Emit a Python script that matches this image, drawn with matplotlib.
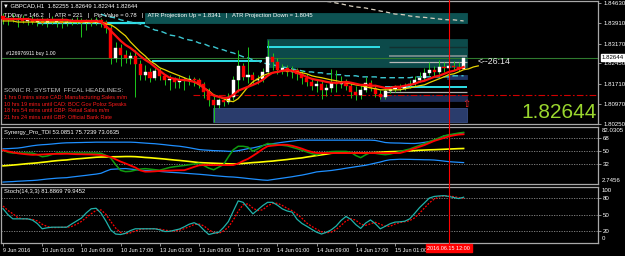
import numpy as np
import matplotlib
matplotlib.use("Agg")
import matplotlib.pyplot as plt
from matplotlib import transforms
from matplotlib.lines import Line2D
from matplotlib.patches import Rectangle

plt.rcParams['font.family'] = ['Liberation Sans', 'DejaVu Sans']

# ---------------- data ----------------
opens = [
    1.8417, 1.8406, 1.8410, 1.8403, 1.8406, 1.8399, 1.8403, 1.8395, 1.8399, 1.8392,
    1.8403, 1.8395, 1.8399, 1.8392, 1.8395, 1.8403, 1.8395, 1.8392, 1.8395, 1.8392,
    1.8403, 1.8395, 1.8374, 1.8265, 1.8301, 1.8276, 1.8265, 1.8272, 1.8243, 1.8204,
    1.8214, 1.8193, 1.8218, 1.8200, 1.8185, 1.8189, 1.8178, 1.8185, 1.8182, 1.8189,
    1.8185, 1.8171, 1.8142, 1.8113, 1.8095, 1.8113, 1.8106, 1.8124, 1.8185, 1.8236,
    1.8196, 1.8204, 1.8185, 1.8189, 1.8214, 1.8269, 1.8251, 1.8222, 1.8229, 1.8214,
    1.8222, 1.8207, 1.8193, 1.8178, 1.8164, 1.8171, 1.8149, 1.8156, 1.8175, 1.8171,
    1.8178, 1.8164, 1.8142, 1.8131, 1.8149, 1.8175, 1.8156, 1.8135, 1.8124, 1.8146,
    1.8153, 1.8156, 1.8153, 1.8164, 1.8171, 1.8185, 1.8193, 1.8211, 1.8222, 1.8214,
    1.8232, 1.8229, 1.8236, 1.8232, 1.82255]
highs = [
    1.8428, 1.8421, 1.8424, 1.8417, 1.8421, 1.8413, 1.8417, 1.8410, 1.8413, 1.8410,
    1.8417, 1.8406, 1.8413, 1.8406, 1.8410, 1.8413, 1.8410, 1.8406, 1.8410, 1.8413,
    1.8410, 1.8403, 1.8385, 1.8323, 1.8316, 1.8294, 1.8287, 1.8294, 1.8258, 1.8240,
    1.8229, 1.8229, 1.8229, 1.8207, 1.8204, 1.8196, 1.8200, 1.8196, 1.8204, 1.8196,
    1.8193, 1.8178, 1.8156, 1.8131, 1.8120, 1.8124, 1.8138, 1.8200, 1.8294, 1.8247,
    1.8305, 1.8214, 1.8204, 1.8229, 1.8330, 1.8283, 1.8265, 1.8243, 1.8240, 1.8236,
    1.8229, 1.8222, 1.8207, 1.8193, 1.8185, 1.8185, 1.8171, 1.8225, 1.8222, 1.8200,
    1.8189, 1.8178, 1.8164, 1.8167, 1.8196, 1.8185, 1.8167, 1.8149, 1.8153, 1.8164,
    1.8167, 1.8171, 1.8175, 1.8185, 1.8200, 1.8214, 1.8229, 1.8251, 1.8236, 1.8258,
    1.8251, 1.8251, 1.8254, 1.8251, 1.82649]
lows = [
    1.8388, 1.8385, 1.8395, 1.8377, 1.8392, 1.8385, 1.8388, 1.8381, 1.8385, 1.8377,
    1.8388, 1.8377, 1.8374, 1.8381, 1.8385, 1.8388, 1.8341, 1.8366, 1.8381, 1.8385,
    1.8377, 1.8356, 1.8243, 1.8251, 1.8236, 1.8247, 1.8243, 1.8124, 1.8185, 1.8185,
    1.8178, 1.8185, 1.8185, 1.8167, 1.8149, 1.8156, 1.8156, 1.8149, 1.8167, 1.8164,
    1.8156, 1.8120, 1.8091, 1.8033, 1.8084, 1.8091, 1.8099, 1.8113, 1.8142, 1.8185,
    1.8175, 1.8171, 1.8171, 1.8178, 1.8207, 1.8222, 1.8207, 1.8207, 1.8200, 1.8193,
    1.8185, 1.8171, 1.8164, 1.8149, 1.8142, 1.8117, 1.8128, 1.8142, 1.8142, 1.8156,
    1.8149, 1.8120, 1.8113, 1.8117, 1.8142, 1.8146, 1.8124, 1.8117, 1.8117, 1.8138,
    1.8142, 1.8146, 1.8149, 1.8156, 1.8164, 1.8178, 1.8185, 1.8204, 1.8200, 1.8207,
    1.8214, 1.8222, 1.8222, 1.8218, 1.82244]
closes = [
    1.8406, 1.8410, 1.8403, 1.8406, 1.8399, 1.8403, 1.8395, 1.8399, 1.8392, 1.8403,
    1.8395, 1.8399, 1.8392, 1.8395, 1.8403, 1.8395, 1.8392, 1.8395, 1.8392, 1.8403,
    1.8392, 1.8374, 1.8265, 1.8301, 1.8276, 1.8265, 1.8272, 1.8243, 1.8204, 1.8214,
    1.8193, 1.8218, 1.8200, 1.8185, 1.8189, 1.8178, 1.8185, 1.8182, 1.8189, 1.8185,
    1.8171, 1.8142, 1.8113, 1.8095, 1.8113, 1.8106, 1.8124, 1.8185, 1.8236, 1.8196,
    1.8204, 1.8185, 1.8189, 1.8214, 1.8269, 1.8251, 1.8222, 1.8229, 1.8214, 1.8222,
    1.8207, 1.8193, 1.8178, 1.8164, 1.8171, 1.8149, 1.8156, 1.8175, 1.8171, 1.8178,
    1.8164, 1.8142, 1.8131, 1.8149, 1.8175, 1.8156, 1.8135, 1.8124, 1.8146, 1.8153,
    1.8156, 1.8153, 1.8164, 1.8171, 1.8185, 1.8193, 1.8211, 1.8222, 1.8214, 1.8232,
    1.8229, 1.8236, 1.8232, 1.8225, 1.82644]

ma_red = [
    1.8406, 1.8406, 1.8406, 1.8406, 1.8406, 1.8406, 1.8403, 1.8403, 1.8403, 1.8403,
    1.8403, 1.8403, 1.8403, 1.8403, 1.8399, 1.8399, 1.8399, 1.8399, 1.8399, 1.8399,
    1.8395, 1.8381, 1.8363, 1.8345, 1.8327, 1.8312, 1.8301, 1.8287, 1.8272, 1.8258,
    1.8247, 1.8232, 1.8218, 1.8204, 1.8193, 1.8189, 1.8185, 1.8185, 1.8182, 1.8178,
    1.8171, 1.8156, 1.8142, 1.8128, 1.8124, 1.8120, 1.8120, 1.8131, 1.8146, 1.8153,
    1.8160, 1.8167, 1.8175, 1.8185, 1.8200, 1.8211, 1.8214, 1.8218, 1.8222, 1.8218,
    1.8211, 1.8204, 1.8196, 1.8189, 1.8185, 1.8182, 1.8178, 1.8175, 1.8175, 1.8175,
    1.8178, 1.8175, 1.8171, 1.8167, 1.8167, 1.8164, 1.8164, 1.8160, 1.8156, 1.8156,
    1.8160, 1.8160, 1.8164, 1.8167, 1.8171, 1.8178, 1.8182, 1.8189, 1.8196, 1.8200,
    1.8207, 1.8214, 1.8218, 1.8225, 1.8232]
ma_yellow = [
    1.8399, 1.8399, 1.8399, 1.8395, 1.8395, 1.8395, 1.8395, 1.8395, 1.8395, 1.8395,
    1.8395, 1.8395, 1.8395, 1.8395, 1.8395, 1.8395, 1.8395, 1.8395, 1.8395, 1.8395,
    1.8395, 1.8388, 1.8385, 1.8374, 1.8359, 1.8345, 1.8323, 1.8305, 1.8287, 1.8272,
    1.8254, 1.8243, 1.8229, 1.8222, 1.8214, 1.8207, 1.8200, 1.8193, 1.8185, 1.8178,
    1.8167, 1.8156, 1.8146, 1.8131, 1.8124, 1.8117, 1.8109, 1.8106, 1.8117, 1.8138,
    1.8160, 1.8178, 1.8189, 1.8200, 1.8207, 1.8211, 1.8214, 1.8218, 1.8218, 1.8218,
    1.8214, 1.8211, 1.8207, 1.8200, 1.8196, 1.8193, 1.8189, 1.8185, 1.8182, 1.8178,
    1.8175, 1.8171, 1.8167, 1.8164, 1.8160, 1.8156, 1.8153, 1.8149, 1.8149, 1.8149,
    1.8149, 1.8149, 1.8153, 1.8156, 1.8160, 1.8164, 1.8167, 1.8175, 1.8182, 1.8189,
    1.8196, 1.8204, 1.8207, 1.8214, 1.8222, 1.8225, 1.8232, 1.8236]
ma_cyan_start = 20
ma_cyan = [
    1.8424, 1.8417, 1.8413, 1.8410, 1.8403, 1.8399, 1.8395, 1.8392, 1.8388, 1.8381,
    1.8374, 1.8366, 1.8363, 1.8356, 1.8348, 1.8345, 1.8341, 1.8334, 1.8330, 1.8327,
    1.8319, 1.8316, 1.8308, 1.8305, 1.8298, 1.8294, 1.8287, 1.8283, 1.8276, 1.8269,
    1.8265, 1.8258, 1.8254, 1.8247, 1.8243, 1.8240, 1.8236, 1.8232, 1.8229, 1.8225,
    1.8222, 1.8218, 1.8214, 1.8214, 1.8211, 1.8211, 1.8207, 1.8207, 1.8204, 1.8204,
    1.8200, 1.8200, 1.8200, 1.8196, 1.8196, 1.8196, 1.8196, 1.8193, 1.8193, 1.8193,
    1.8193, 1.8193, 1.8193, 1.8193, 1.8196, 1.8196, 1.8196, 1.8196, 1.8196, 1.8196,
    1.8196, 1.8196, 1.8200, 1.8200, 1.8200]
ma_gray_start = 62
ma_gray = [
    1.8482, 1.8479, 1.8475, 1.8471, 1.8470, 1.8468, 1.8464, 1.8461, 1.8457, 1.8453,
    1.8450, 1.8448, 1.8446, 1.8442, 1.8439, 1.8435, 1.8432, 1.8428, 1.8424, 1.8423,
    1.8421, 1.8417, 1.8415, 1.8413, 1.8412, 1.8410, 1.8408, 1.8406, 1.8404, 1.8403,
    1.8403, 1.8401, 1.8399]

# zones (bar index span, price span)
zone_x0 = [29.0, 53.9, 42.9, 77.0, 90.6]
zone_x1 = [94.7, 94.7, 94.7, 94.7, 94.7]
zone_lo = [1.8393, 1.8232, 1.8033, 1.8109, 1.8189]
zone_hi = [1.8429, 1.8334, 1.8084, 1.8131, 1.8204]
# level segments
seg_x0 = [6.9, 53.9, 78.8, 78.8, 30.4, 78.0, 78.0]
seg_x1 = [29.0, 76.9, 94.7, 94.7, 52.9, 94.7, 94.7]
seg_y = [1.8393, 1.8306, 1.8306, 1.8251, 1.8252, 1.8161, 1.8142]
band_lo, band_hi = 1.8268, 1.8276
dashdot_level = 1.8131
dashdot_start = 38.8

tdi_upper = [
    52.6, 52.9, 53.3, 53.7, 54.6, 55.8, 56.9, 57.8, 58.4, 58.8,
    59.4, 60.1, 60.7, 61.1, 61.2, 61.4, 61.5, 61.7, 61.8, 62.0,
    62.0, 62.0, 62.0, 62.0, 62.0, 62.0, 62.0, 61.7, 61.2, 60.7,
    60.2, 59.8, 59.1, 58.4, 57.6, 56.9, 56.3, 55.3, 54.2, 52.9,
    51.6, 51.0, 50.6, 50.1, 49.9, 49.6, 49.1, 49.0, 50.1, 51.4,
    52.9, 53.9, 55.5, 57.2, 58.8, 59.8, 60.8, 61.8, 62.7, 63.5,
    64.4, 64.8, 64.8, 64.8, 64.8, 64.8, 64.8, 64.8, 64.8, 64.8,
    64.8, 64.8, 64.8, 64.8, 64.8, 64.8, 64.4, 63.0, 61.5, 61.0,
    60.8, 60.7, 60.4, 60.2, 60.1, 60.7, 61.7, 62.7, 64.1, 67.3,
    70.8, 71.9, 72.9, 73.9, 75.1]
tdi_lower = [
    5.9, 6.3, 6.6, 7.1, 7.4, 7.8, 8.1, 8.6, 9.4, 10.2,
    10.8, 11.4, 11.8, 12.1, 13.0, 13.8, 14.6, 15.4, 16.3, 17.1,
    18.3, 21.2, 23.8, 24.2, 24.6, 24.9, 24.2, 23.5, 22.6, 22.2,
    21.8, 21.3, 20.9, 20.3, 19.7, 19.3, 18.9, 18.4, 17.9, 17.4,
    16.9, 16.3, 15.7, 15.0, 14.4, 13.8, 13.3, 13.0, 12.4, 11.7,
    10.9, 10.2, 9.5, 8.8, 8.4, 9.4, 10.4, 11.4, 12.4, 13.4,
    14.6, 15.7, 17.1, 18.6, 20.2, 20.9, 21.5, 22.2, 23.2, 24.2,
    25.4, 26.4, 27.5, 28.5, 29.5, 31.0, 32.6, 34.1, 36.0, 37.3,
    37.6, 38.0, 37.9, 37.8, 37.6, 37.5, 37.3, 37.2, 36.9, 36.2,
    35.4, 34.6, 34.1, 33.7, 33.3]
tdi_mid = [
    28.7, 29.2, 29.8, 30.4, 31.1, 31.8, 32.3, 32.9, 33.7, 34.4,
    35.3, 36.0, 36.6, 37.0, 37.9, 38.5, 39.0, 39.6, 40.2, 40.8,
    41.1, 41.2, 41.4, 41.5, 41.6, 41.8, 41.8, 41.6, 41.1, 40.5,
    40.1, 39.5, 38.9, 38.3, 37.6, 36.9, 36.3, 35.6, 34.9, 34.1,
    33.3, 33.0, 32.7, 32.4, 32.1, 31.8, 31.6, 31.3, 31.7, 32.1,
    32.7, 33.3, 33.7, 34.3, 34.9, 35.4, 36.2, 36.9, 37.6, 38.5,
    39.2, 39.9, 41.1, 42.1, 43.2, 44.2, 45.2, 46.4, 46.7, 46.7,
    46.7, 46.7, 46.7, 46.7, 46.7, 47.1, 47.4, 47.8, 48.3, 48.6,
    48.8, 49.0, 49.4, 49.7, 50.1, 50.6, 50.9, 51.2, 51.4, 51.7,
    52.0, 52.3, 52.6, 52.9, 53.09]
tdi_signal = [
    50.6, 49.1, 47.7, 46.3, 45.5, 44.8, 44.2, 44.4, 44.7, 45.1,
    45.4, 45.5, 45.5, 45.7, 45.4, 45.1, 45.0, 44.8, 44.7, 44.4,
    43.9, 42.8, 41.1, 37.9, 34.7, 32.1, 29.2, 26.4, 22.3, 20.5,
    20.6, 21.0, 21.6, 21.9, 22.0, 22.3, 22.5, 22.6, 24.8, 27.2,
    29.4, 29.8, 29.8, 29.8, 29.8, 29.8, 29.8, 29.8, 32.0, 35.6,
    38.5, 42.8, 47.3, 52.3, 56.3, 57.1, 57.8, 58.4, 58.2, 56.9,
    55.0, 52.9, 50.3, 48.3, 46.8, 46.7, 46.7, 46.7, 46.7, 46.7,
    46.7, 46.7, 46.7, 46.7, 46.7, 46.7, 46.7, 46.7, 46.7, 46.7,
    46.7, 46.7, 48.6, 50.7, 53.2, 55.5, 57.9, 60.8, 63.7, 65.9,
    68.0, 70.2, 71.5, 72.6, 73.06]
tdi_rsi = [
    50.7, 47.7, 46.7, 46.7, 46.7, 46.7, 46.7, 44.5, 41.5, 42.5,
    44.7, 46.7, 46.7, 46.7, 46.4, 46.8, 46.7, 46.7, 46.7, 46.7,
    46.3, 43.5, 39.5, 30.3, 22.3, 20.6, 21.0, 22.6, 24.2, 24.8,
    24.1, 23.3, 22.6, 24.5, 26.4, 27.5, 28.4, 29.2, 30.3, 31.3,
    32.1, 29.1, 25.5, 23.2, 26.8, 30.5, 41.4, 51.4, 56.2, 56.2,
    55.0, 49.3, 52.6, 56.9, 60.1, 59.2, 58.6, 57.6, 56.8, 54.8,
    52.9, 50.6, 48.3, 46.0, 44.2, 46.1, 47.6, 48.7, 49.0, 49.0,
    49.0, 47.8, 43.2, 40.2, 44.2, 47.4, 46.3, 45.2, 44.4, 45.2,
    47.0, 48.8, 50.7, 52.4, 55.0, 57.5, 59.9, 62.7, 65.3, 68.0,
    70.8, 72.3, 73.5, 74.8, 75.72]
stoch_main = [
    61.3, 50.5, 42.8, 42.8, 42.8, 42.8, 40.6, 34.3, 24.8, 26.6,
    27.7, 27.7, 27.7, 27.7, 33.4, 38.8, 44.2, 53.6, 61.0, 61.9,
    53.2, 38.8, 22.5, 15.3, 14.4, 16.7, 21.6, 24.8, 24.8, 24.8,
    24.8, 24.8, 23.0, 19.9, 20.1, 22.3, 24.3, 28.4, 33.1, 35.8,
    31.6, 22.5, 14.4, 16.7, 18.3, 27.1, 37.9, 56.8, 75.2, 72.7,
    62.2, 51.8, 59.2, 66.7, 72.7, 72.7, 67.5, 60.8, 57.0, 55.0,
    42.1, 34.5, 29.3, 23.9, 18.7, 15.3, 18.5, 23.0, 29.8, 39.9,
    47.1, 41.7, 32.4, 25.5, 35.1, 40.8, 33.8, 24.8, 29.3, 34.0,
    36.9, 37.4, 38.5, 42.8, 52.5, 63.0, 71.6, 80.4, 83.3, 84.2,
    84.7, 83.3, 81.3, 79.5, 81.89]
stoch_signal = [
    66.0, 58.0, 52.0, 45.0, 43.0, 42.5, 42.0, 39.0, 33.0, 29.0,
    27.0, 27.0, 27.5, 27.5, 29.0, 33.0, 38.0, 45.0, 52.0, 58.0,
    59.0, 51.0, 38.0, 26.0, 18.0, 15.5, 17.5, 21.0, 23.5, 24.8,
    24.8, 24.8, 24.2, 22.5, 21.0, 20.8, 22.2, 25.0, 28.6, 32.4,
    33.5, 30.0, 23.0, 18.0, 16.5, 20.7, 27.8, 40.6, 56.6, 68.2,
    70.0, 62.2, 57.7, 59.2, 66.2, 70.7, 71.0, 67.0, 61.8, 57.6,
    51.4, 43.9, 35.3, 29.2, 24.0, 19.3, 17.5, 18.9, 23.8, 30.9,
    38.9, 42.9, 40.4, 33.2, 31.0, 33.8, 36.6, 33.1, 29.3, 29.4,
    33.4, 36.1, 37.6, 39.6, 44.6, 52.8, 62.4, 71.7, 78.4, 82.6,
    84.1, 84.1, 83.0, 81.3, 79.95]

price_ticks = [1.84630, 1.83910, 1.83170, 1.82450, 1.81710, 1.80970, 1.80250]
tdi_levels = [68, 50, 32]
tdi_extremes = ['82.0305', '2.7456']
stoch_levels = [80, 50, 20]
time_labels = ['9 Jun 2016', '10 Jun 01:00', '10 Jun 09:00', '10 Jun 17:00',
               '13 Jun 01:00', '13 Jun 09:00', '13 Jun 17:00', '14 Jun 01:00',
               '14 Jun 09:00', '14 Jun 17:00', '15 Jun 01:00']
time_label_bars = [0, 8, 16, 24, 32, 40, 48, 56, 64, 72, 80]
cursor_bar = 91
cursor_label = '2016.06.15 12:00'
last_price = 1.82644

# ---------------- layout helpers ----------------
W, H = 625, 256
def fx(px):
    return px / W
def fy(py):
    return 1 - py / H

BAR_PX = 4.9
FIRST_PX = 3.0
AX_L, AX_R = 1.0, 598.0
xlim = ((AX_L - FIRST_PX) / BAR_PX, (AX_R - FIRST_PX) / BAR_PX)

fig = plt.figure(figsize=(W / 100, H / 100), dpi=100, facecolor='black')
ax1 = fig.add_axes([fx(AX_L), fy(124), (AX_R - AX_L) / W, 123 / H])
ax2 = fig.add_axes([fx(AX_L), fy(184), (AX_R - AX_L) / W, 57 / H])
ax3 = fig.add_axes([fx(AX_L), fy(242.5), (AX_R - AX_L) / W, 55.5 / H])

GRAY = '#a8a8a8'
for ax in (ax1, ax2, ax3):
    ax.set_facecolor('black')
    ax.set_xlim(*xlim)
    for s in ax.spines.values():
        s.set_color(GRAY)
        s.set_linewidth(0.9)
    ax.yaxis.tick_right()
    ax.tick_params(axis='y', length=2.5, width=0.6, color=GRAY,
                   labelcolor='white', labelsize=4.4, pad=1.2)
    ax.set_xticks([])

ax1.set_ylim(1.802612, 1.847138)
ax2.set_ylim(3.2, 83.3)
ax3.set_ylim(0, 100.4)

# ---------------- price panel ----------------
o = np.array(opens); h = np.array(highs); l = np.array(lows); c = np.array(closes)
x = np.arange(len(c))

zone_cols = ['#0d5252', '#0c4a4a', '#2a3c6c', '#1e2c55', '#1e3566']
for x0, x1, lo, hi, col in zip(zone_x0, zone_x1, zone_lo, zone_hi, zone_cols):
    ax1.add_patch(Rectangle((x0, lo), x1 - x0, hi - lo, facecolor=col,
                            edgecolor='#3a4e86' if col == '#2a3c6c' else col,
                            lw=0.6, zorder=1))
ax1.add_patch(Rectangle((seg_x0[2], band_lo), seg_x1[2] - seg_x0[2], band_hi - band_lo,
                        facecolor='#6f8585', edgecolor='none', zorder=1.5))
seg_cols = ['#2fe0e8', '#2fe0e8', '#123030', '#b8b8b8', '#2fe0e8', '#2fe0e8', '#b0b0b0']
seg_lw = [1.6, 1.4, 1.0, 0.9, 1.4, 1.4, 0.9]
for x0, x1, yv, col, lw in zip(seg_x0, seg_x1, seg_y, seg_cols, seg_lw):
    ax1.hlines(yv, x0, x1, color=col, lw=lw, zorder=2)

ax1.hlines(dashdot_level, dashdot_start, xlim[1], color='#d00000', lw=0.8,
           linestyles=[(0, (6, 2, 1.5, 2))], zorder=2)
ax1.axhline(last_price, color='#2f7a2f', lw=0.8, zorder=2)

# cyan and gray long moving averages (dashed)
ax1.plot(np.arange(ma_cyan_start, ma_cyan_start + len(ma_cyan)), ma_cyan,
         color='#3cc8d2', lw=1.0, dashes=(4, 2.5), zorder=2.5)
ax1.plot(np.arange(ma_gray_start, ma_gray_start + len(ma_gray)), ma_gray,
         color='#d8d0c0', lw=0.9, dashes=(3.5, 2.5), zorder=2.5)

# candles
up = c >= o
ax1.vlines(x, l, h, color='#1cc81c', lw=0.7, zorder=3)
ax1.bar(x[up], (c - o)[up], bottom=o[up], width=0.62, color='white',
        edgecolor='white', lw=0.3, zorder=4)
ax1.bar(x[~up], (o - c)[~up], bottom=c[~up], width=0.62, color='#ff0000',
        edgecolor='#ff0000', lw=0.3, zorder=4)

# short moving averages
ax1.plot(np.arange(len(ma_yellow)), ma_yellow, color='#e8d400', lw=0.9, zorder=5)
ax1.plot(np.arange(len(ma_red)), ma_red, color='#ff1010', lw=1.6, zorder=5.5)

ax1.set_yticks(price_ticks)
ax1.set_yticklabels(['%.5f' % v for v in price_ticks])

# ---------------- TDI panel ----------------
for lv in tdi_levels:
    ax2.axhline(lv, color='#8c8c8c', lw=0.6, ls=(0, (1.5, 1.5)), zorder=1)
xt = np.arange(len(tdi_upper))
ax2.plot(xt, tdi_upper, color='#1e8fff', lw=0.9, zorder=2)
ax2.plot(xt, tdi_lower, color='#1e8fff', lw=0.9, zorder=2)
ax2.plot(xt, tdi_mid, color='#ffff00', lw=1.2, zorder=3)
ax2.plot(xt, tdi_rsi, color='#109c10', lw=1.1, zorder=3)
ax2.plot(xt, tdi_signal, color='#ff0000', lw=1.3, zorder=4)
ax2.set_yticks(tdi_levels)
ax2.set_yticklabels([str(v) for v in tdi_levels])

# ---------------- Stochastic panel ----------------
for lv in stoch_levels:
    ax3.axhline(lv, color='#8c8c8c', lw=0.6, ls=(0, (1.5, 1.5)), zorder=1)
xs = np.arange(len(stoch_main))
ax3.plot(xs, stoch_main, color='#20b2aa', lw=0.9, zorder=3)
ax3.plot(xs, stoch_signal, color='#ff0000', lw=0.9, ls=(0, (1.5, 1.2)), zorder=2)
ax3.set_yticks(stoch_levels)
ax3.set_yticklabels([str(v) for v in stoch_levels])
ax3.set_xticks(time_label_bars, time_labels, ha='left')
ax3.tick_params(axis='x', length=2.5, width=0.6, color=GRAY, labelcolor='white',
                labelsize=4.0, pad=1.6)

# ---------------- cursor line and labels ----------------
tr = transforms.blended_transform_factory(ax1.transData, fig.transFigure)
fig.add_artist(Line2D([cursor_bar, cursor_bar], [fy(0), fy(243)], transform=tr,
                      color='#ff0000', lw=0.8, zorder=10))
tr3 = transforms.blended_transform_factory(ax3.transData, fig.transFigure)
fig.text(cursor_bar, fy(248.3), cursor_label, transform=tr3, ha='center', va='center',
         fontsize=4.0, color='white', zorder=12,
         bbox=dict(boxstyle='square,pad=0.25', facecolor='#ff0000', edgecolor='#ff0000'))

# right-axis extra labels
fig.text(fx(602), fy(131), tdi_extremes[0], fontsize=4.4, color='white', va='center')
fig.text(fx(602), fy(180.7), tdi_extremes[1], fontsize=4.4, color='white', va='center')
fig.text(fx(602), fy(190), '100', fontsize=4.4, color='white', va='center')
fig.text(fx(602), fy(238.7), '0', fontsize=4.4, color='white', va='center')
fig.text(fx(601.5), fy(57.6), '%.5f' % last_price, fontsize=4.4, color='black', va='center',
         zorder=12, bbox=dict(boxstyle='square,pad=0.15', facecolor='white', edgecolor='white'))

# ---------------- annotations ----------------
fig.text(fx(3), fy(6), '\u25bc GBPCAD,H1  1.82255 1.82649 1.82244 1.82644',
         fontsize=4.2, color='white', va='center', zorder=12)
fig.text(fx(4), fy(15.3),
         'TDDay = 146.2   |   ATR = 221   |   Pip Value = 0.78   |   '
         'ATR Projection Up = 1.8341   |   ATR Projection Down = 1.8045',
         fontsize=4.2, color='white', va='center', zorder=12)
fig.text(fx(6), fy(54), '#126976911 buy 1.00', fontsize=3.7, color='white',
         va='center', zorder=12)
fig.text(fx(4), fy(90), 'SONIC R. SYSTEM  FFCAL HEADLINES:', fontsize=4.6,
         color='#c8c8c8', va='center', zorder=12)
news = ['1 hrs 0 mins since CAD: Manufacturing Sales m/m',
        '10 hrs 19 mins until CAD: BOC Gov Poloz Speaks',
        '18 hrs 54 mins until GBP: Retail Sales m/m',
        '21 hrs 24 mins until GBP: Official Bank Rate']
for k, s in enumerate(news):
    fig.text(fx(4), fy(97.3 + 6.8 * k), s, fontsize=4.0, color='#ff1a1a',
             va='center', zorder=12)
fig.text(fx(478), fy(61), '<--26:14', fontsize=6.3, color='#e8e8e8', va='center', zorder=12)
fig.text(fx(466), fy(104), '\u21e7', fontsize=7, color='#ff2020', ha='center', va='center',
         family='DejaVu Sans', zorder=12)
fig.text(fx(597), fy(118), '%.5f' % last_price, fontsize=15, color='#9ad62e',
         ha='right', va='baseline', zorder=12)
fig.text(fx(4), fy(132.7), 'Synergy_Pro_TDI 53.0851 75.7239 73.0635', fontsize=4.2,
         color='white', va='center', zorder=12)
fig.text(fx(4), fy(191.5), 'Stoch(14,3,3) 81.8869 79.9452', fontsize=4.2,
         color='white', va='center', zorder=12)

fig.savefig('out.png', dpi=100, facecolor='black')
